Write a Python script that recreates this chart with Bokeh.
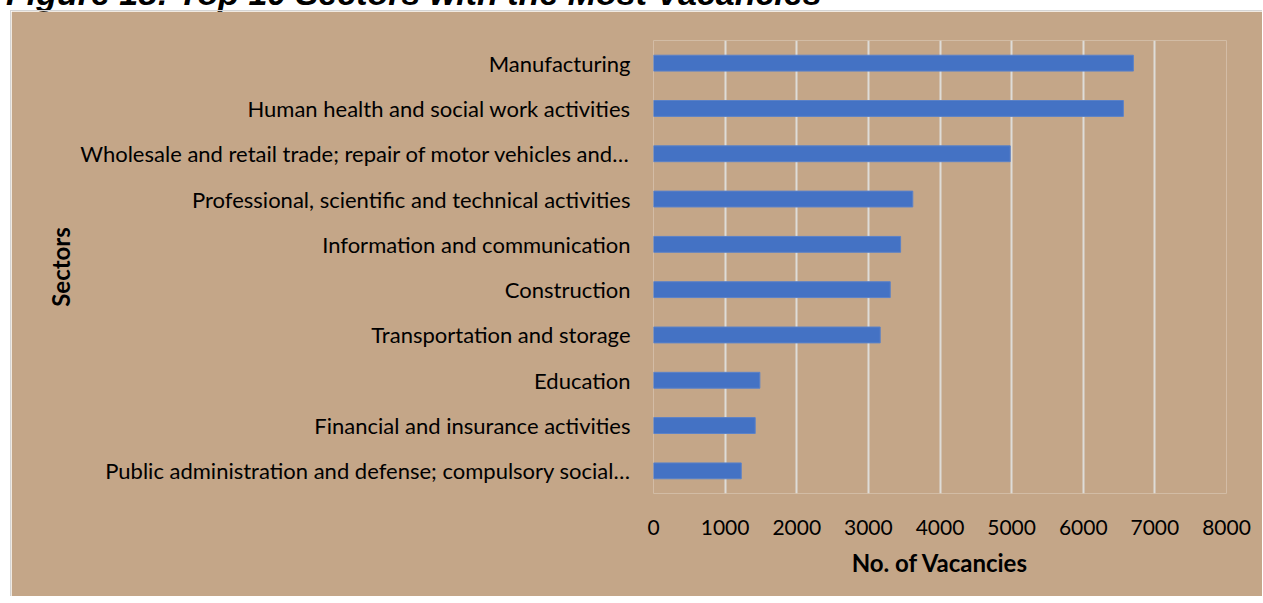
from bokeh.plotting import figure
from bokeh.models import Div, Range1d, FactorRange
from bokeh.layouts import column
from bokeh.embed import file_html
from bokeh.resources import INLINE

title_text = "Figure 18: Top 10 Sectors with the Most Vacancies"
sectors = [
    "Manufacturing",
    "Human health and social work activities",
    "Wholesale and retail trade; repair of motor vehicles and\u2026",
    "Professional, scientific and technical activities",
    "Information and communication",
    "Construction",
    "Transportation and storage",
    "Education",
    "Financial and insurance activities",
    "Public administration and defense; compulsory social\u2026",
]
vacancies = [6700, 6560, 4980, 3620, 3450, 3305, 3165, 1485, 1420, 1225]
x_ticks = [0, 1000, 2000, 3000, 4000, 5000, 6000, 7000, 8000]

BG = "#C4A688"
FONT = "Lato"

title = Div(
    text=title_text,
    width=1100, height=30,
    margin=(-26, 0, 0, 6),
    styles={"font-family": "Liberation Sans", "font-size": "34px",
            "font-weight": "bold", "font-style": "italic", "color": "#000000",
            "white-space": "nowrap", "line-height": "38px"},
)

factors = list(reversed(sectors))
p = figure(
    width=1252, height=586,
    y_range=FactorRange(factors=factors),
    x_range=Range1d(0, 8000),
    output_backend="svg", toolbar_location=None,
    margin=(6, 0, 0, 10),
    min_border_left=642, min_border_right=37,
    min_border_top=29, min_border_bottom=104,
)
p.background_fill_color = BG
p.border_fill_color = BG
p.outline_line_color = None
p.styles = {"border-left": "1px solid #d4d4d4", "border-top": "1px solid #d4d4d4"}

p.hbar(y=sectors, right=vacancies, left=0, height=0.35,
       fill_color="#4472C4", line_color="#5B82C8", line_width=1)

p.xaxis.ticker = x_ticks
p.xaxis.axis_label = "No. of Vacancies"
p.yaxis.axis_label = "Sectors"
for ax in (p.xaxis, p.yaxis):
    ax.axis_line_color = None
    ax.major_tick_line_color = None
    ax.minor_tick_line_color = None
    ax.major_label_text_font = FONT
    ax.major_label_text_color = "#000000"
    ax.axis_label_text_font = FONT
    ax.axis_label_text_font_size = "24px"
    ax.axis_label_text_font_style = "bold"
    ax.axis_label_text_color = "#000000"

p.xaxis.major_label_text_font_size = "21px"
p.yaxis.major_label_text_font_size = "22px"
p.xaxis.major_label_standoff = 20
p.xaxis.axis_label_standoff = 10
p.yaxis.major_label_standoff = 17
p.yaxis.axis_label_standoff = 2

p.xgrid.grid_line_color = "#DEDCD8"
p.xgrid.grid_line_width = 2
p.ygrid.grid_line_color = None

layout = column(title, p, spacing=0)
open("out.html", "w").write(file_html(layout, INLINE))
